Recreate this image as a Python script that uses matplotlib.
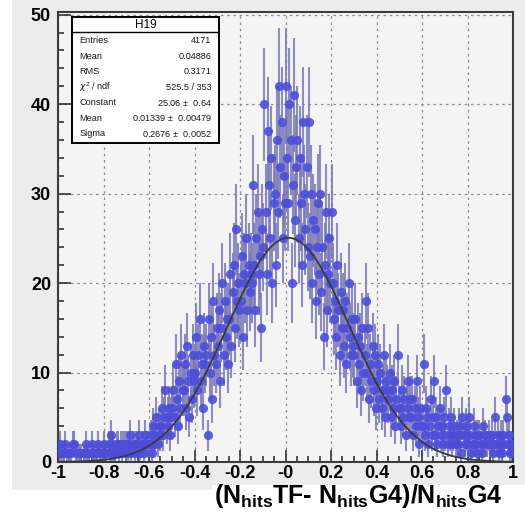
import numpy as np
import matplotlib
matplotlib.use("Agg")
import matplotlib.pyplot as plt
from matplotlib.ticker import FixedLocator, FixedFormatter, MultipleLocator

plt.rcParams['font.family'] = ['Liberation Sans', 'DejaVu Sans']
plt.rcParams['mathtext.fontset'] = 'custom'
plt.rcParams['mathtext.rm'] = 'Liberation Sans'
plt.rcParams['mathtext.bf'] = 'Liberation Sans:bold'

# histogram H19: 400 bins on [-1, 1], counts (10 bins per row)
x_lo, x_hi, n_bins = -1.0, 1.0, 400
counts = [
    1, 2, 1, 0, 1, 1, 2, 1, 0, 1,
    1, 1, 0, 2, 2, 1, 1, 0, 1, 1,
    1, 0, 1, 1, 2, 1, 1, 1, 0, 2,
    1, 1, 0, 1, 1, 2, 1, 0, 1, 1,
    2, 1, 1, 0, 2, 1, 3, 1, 2, 1,
    1, 2, 2, 1, 0, 2, 1, 2, 2, 1,
    2, 1, 2, 3, 1, 2, 2, 1, 2, 2,
    2, 3, 1, 2, 2, 1, 3, 2, 2, 2,
    2, 3, 1, 4, 2, 3, 5, 2, 4, 3,
    4, 6, 3, 5, 8, 4, 5, 6, 3, 5,
    6, 8, 5, 11, 7, 4, 9, 6, 12, 8,
    8, 11, 6, 13, 9, 5, 10, 7, 12, 9,
    10, 14, 8, 12, 16, 9, 11, 6, 13, 11,
    12, 3, 16, 10, 14, 7, 18, 12, 11, 15,
    13, 17, 9, 15, 20, 12, 18, 14, 16, 11,
    16, 21, 13, 19, 22, 15, 26, 18, 20, 17,
    18, 23, 14, 21, 20, 25, 17, 22, 19, 21,
    20, 31, 22, 17, 25, 28, 21, 23, 15, 26,
    24, 40, 28, 21, 37, 31, 25, 34, 20, 29,
    30, 22, 36, 28, 42, 33, 38, 25, 32, 29,
    42, 34, 29, 40, 36, 20, 31, 41, 27, 33,
    36, 25, 34, 29, 22, 38, 30, 26, 33, 24,
    38, 23, 30, 20, 27, 26, 18, 24, 29, 21,
    30, 19, 24, 14, 22, 28, 17, 21, 25, 20,
    28, 20, 16, 18, 14, 22, 17, 12, 19, 15,
    17, 13, 18, 11, 15, 20, 14, 12, 16, 13,
    12, 16, 9, 14, 11, 13, 8, 15, 10, 12,
    18, 10, 15, 7, 11, 9, 13, 8, 12, 6,
    9, 11, 7, 10, 6, 8, 12, 5, 9, 8,
    7, 10, 5, 8, 6, 9, 4, 7, 12, 6,
    6, 4, 8, 5, 7, 3, 6, 9, 5, 7,
    5, 7, 3, 6, 4, 9, 5, 2, 6, 4,
    4, 11, 3, 6, 5, 2, 4, 7, 3, 5,
    9, 3, 5, 2, 4, 6, 3, 4, 2, 5,
    3, 8, 2, 4, 3, 5, 2, 3, 4, 2,
    3, 2, 4, 3, 1, 5, 3, 2, 4, 3,
    2, 5, 3, 1, 2, 4, 2, 3, 1, 3,
    3, 2, 1, 4, 2, 3, 0, 2, 3, 2,
    2, 3, 1, 2, 5, 2, 3, 1, 2, 3,
    1, 3, 2, 7, 5, 2, 3, 1, 2, 1,
]

# gaussian fit parameters from the stats box
fit_const, fit_mean, fit_sigma = 25.06, 0.01339, 0.2676

stat_names = ['Entries', 'Mean', 'RMS', r'$\chi^2$ / ndf', 'Constant', 'Mean', 'Sigma']
stat_values = ['4171', '0.04886', '0.3171', '525.5 / 353',
               '25.06 $\\pm$  0.64', '0.01339 $\\pm$  0.00479', '0.2676 $\\pm$  0.0052']

xtick_vals = [-1, -0.8, -0.6, -0.4, -0.2, 0, 0.2, 0.4, 0.6, 0.8, 1]
xtick_labels = ['-1', '-0.8', '-0.6', '-0.4', '-0.2', '-0', '0.2', '0.4', '0.6', '0.8', '1']

W, H = 525, 517
fig = plt.figure(figsize=(W / 100, H / 100), dpi=100, facecolor='white')

# grey ROOT canvas
fig.add_artist(plt.Rectangle((12 / W, 1 - 490 / H), 1 - 12 / W, 490 / H,
                             transform=fig.transFigure, facecolor='#ececec',
                             edgecolor='none', zorder=-10))

ax = fig.add_axes([58 / W, 1 - 462 / H, 455 / W, 450 / H])
ax.set_facecolor('#f4f4f4')

y = np.array(counts, dtype=float)
edges = np.linspace(x_lo, x_hi, n_bins + 1)
xc = 0.5 * (edges[:-1] + edges[1:])
m = y > 0

ax.errorbar(xc[m], y[m], yerr=np.sqrt(y[m]), fmt='none', ecolor='#7a7ab8',
            elinewidth=1.5, alpha=0.85, zorder=2)
ax.plot(xc[m], y[m], 'o', color='#4d4ddb', markersize=6.6, markeredgewidth=0,
        alpha=0.9, zorder=3)

xf = np.linspace(x_lo, x_hi, 600)
ax.plot(xf, fit_const * np.exp(-0.5 * ((xf - fit_mean) / fit_sigma) ** 2),
        color='#3a3a3a', lw=1.3, zorder=4)

ax.set_xlim(x_lo, x_hi)
ax.set_ylim(0, 50.3)
ax.xaxis.set_major_locator(FixedLocator(xtick_vals))
ax.xaxis.set_major_formatter(FixedFormatter(xtick_labels))
ax.xaxis.set_minor_locator(MultipleLocator(0.05))
ax.yaxis.set_major_locator(MultipleLocator(10))
ax.yaxis.set_minor_locator(MultipleLocator(2))
ax.tick_params(which='both', direction='in', top=False, right=False,
               color='#333333', width=1.2)
ax.tick_params(which='major', length=9, labelsize=13)
ax.tick_params(which='minor', length=4.5)
ax.tick_params(axis='x', pad=2)
ax.tick_params(axis='y', pad=5)
for lab in ax.get_xticklabels() + ax.get_yticklabels():
    lab.set_fontweight('bold')

ax.grid(True, which='major', color='#8c8c8c', linestyle=(0, (2, 3)), lw=0.9)
for s in ax.spines.values():
    s.set_color('#3c3c3c')
    s.set_linewidth(1.5)

# stats box
sb = fig.add_axes([72 / W, 1 - 143 / H, 147 / W, 126 / H])
sb.set_facecolor('white')
sb.set_xticks([])
sb.set_yticks([])
sb.set_xlim(0, 1)
sb.set_ylim(0, 1)
for s in sb.spines.values():
    s.set_color('black')
    s.set_linewidth(1.4)
sb.axhline(0.88, color='black', lw=1.0)
sb.text(0.5, 0.94, 'H19', ha='center', va='center', fontsize=8.5)
for i, (name, val) in enumerate(zip(stat_names, stat_values)):
    yy = 0.81 - i * 0.123
    sb.text(0.05, yy, name, ha='left', va='center', fontsize=6.6, color='#1a1a1a')
    sb.text(0.95, yy, val, ha='right', va='center', fontsize=6.6, color='#1a1a1a')

# axis title in its white box
fig.add_artist(plt.Rectangle((212 / W, 0), 1 - 212 / W, 1 - 485 / H,
                             transform=fig.transFigure, facecolor='white',
                             edgecolor='none', zorder=-5))
fig.text(214 / W, 1 - 503 / H,
         r'(N$_\mathbf{hits}$TF- N$_\mathbf{hits}$G4)/N$_\mathbf{hits}$G4',
         fontsize=18, fontweight='bold', ha='left', va='baseline')

fig.savefig('out.png', dpi=100, facecolor=fig.get_facecolor())
